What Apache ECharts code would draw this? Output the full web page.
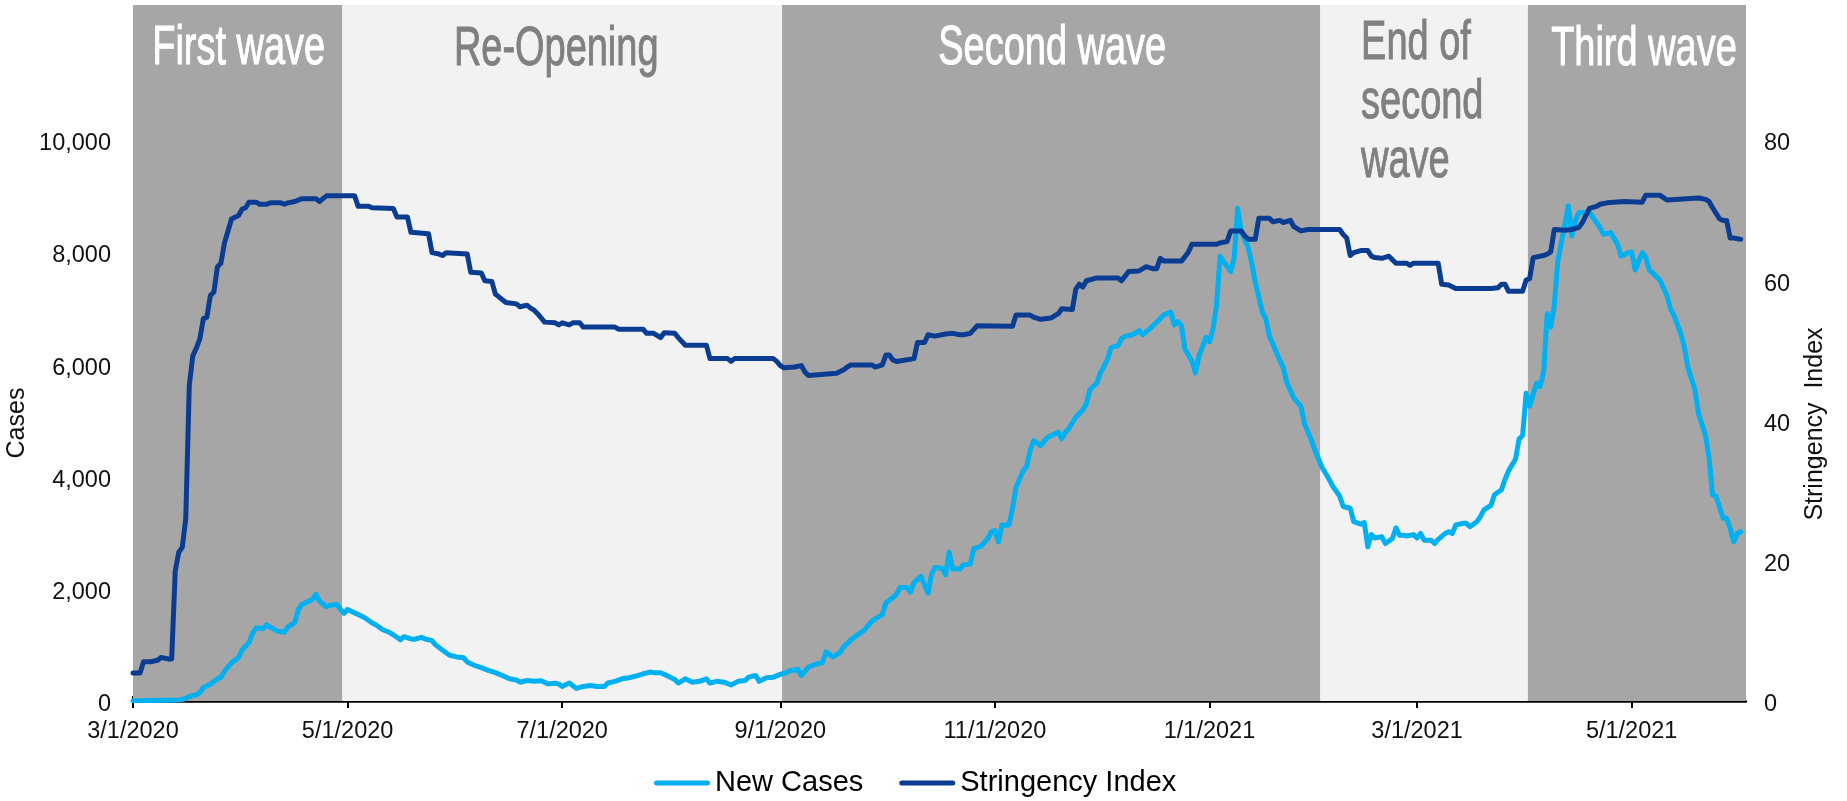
<!DOCTYPE html>
<html>
<head>
<meta charset="utf-8">
<title>New Cases and Stringency Index</title>
<script src="https://cdn.jsdelivr.net/npm/echarts@6/dist/echarts.min.js"></script>
<style>
  html, body { margin: 0; padding: 0; background: #ffffff; }
  #chart { width: 1847px; height: 801px; }
</style>
</head>
<body>
<div id="chart"></div>
<script>
// ---- Data -------------------------------------------------------------
// Day offsets are counted from 1 March 2020 (day 0).
const SERIES_START = [2020, 2, 1];

// Pandemic phases: first and last day of each shaded period.
const phaseNames    = ['First wave', 'Re-Opening', 'Second wave', 'End of\nsecond\nwave', 'Third wave'];
const phaseFirstDay = [0, 60, 185, 338, 397];
const phaseLastDay  = [59, 184, 337, 396, 458];
const phaseIsWave   = [true, false, true, false, true];

// New Cases (7-day average), left axis.
const caseDays = [
  0, 5, 10, 13, 14, 15, 16, 18, 19, 20, 22, 24, 25, 26, 27, 28, 30, 31, 33, 34,
  35, 37, 38, 39, 41, 43, 44, 46, 47, 48, 50, 51, 52, 53, 55, 56, 58, 59, 60, 61,
  63, 64, 66, 68, 69, 71, 73, 74, 76, 77, 79, 80, 82, 83, 85, 86, 88, 90, 92, 94,
  95, 97, 99, 101, 103, 105, 107, 109, 110, 112, 114, 116, 118, 120, 121, 122, 124, 126, 128, 130,
  132, 134, 135, 137, 139, 141, 143, 145, 147, 148, 150, 152, 154, 155, 157, 159, 161, 163, 164, 166,
  168, 170, 172, 174, 175, 177, 178, 180, 182, 184, 186, 187, 189, 190, 192, 194, 196, 197, 199, 201,
  202, 204, 206, 208, 210, 211, 213, 214, 216, 217, 218, 220, 221, 222, 224, 226, 227, 228, 230, 231,
  232, 233, 235, 236, 238, 239, 241, 243, 244, 245, 246, 247, 249, 250, 251, 253, 254, 255, 256, 258,
  260, 261, 263, 264, 265, 266, 268, 270, 271, 272, 274, 275, 277, 278, 280, 281, 282, 284, 285, 286,
  287, 289, 290, 292, 293, 295, 296, 297, 298, 299, 301, 302, 303, 305, 306, 307, 308, 309, 311, 312,
  313, 314, 315, 317, 318, 319, 321, 322, 323, 325, 327, 328, 330, 332, 333, 335, 336, 338, 340, 341,
  343, 344, 346, 347, 349, 350, 351, 352, 353, 355, 356, 358, 359, 360, 361, 362, 364, 365, 366, 367,
  369, 370, 371, 373, 374, 375, 376, 378, 379, 380, 382, 383, 384, 386, 387, 389, 390, 391, 393, 394,
  395, 396, 397, 399, 400, 401, 402, 403, 404, 405, 407, 408, 409, 410, 411, 414, 415, 417, 418, 420,
  422, 423, 425, 426, 427, 429, 430, 431, 433, 434, 436, 437, 438, 440, 441, 442, 444, 445, 447, 448,
  449, 450, 452, 453, 454, 455, 456, 457
];
const caseCounts = [
  5, 10, 15, 20, 25, 50, 80, 110, 150, 240, 300, 395, 425, 530, 605, 680, 775, 905, 1045, 1210,
  1300, 1290, 1360, 1315, 1245, 1225, 1315, 1400, 1630, 1720, 1780, 1810, 1900, 1780, 1680, 1705, 1720, 1630, 1560, 1630,
  1570, 1540, 1480, 1390, 1360, 1270, 1220, 1180, 1090, 1145, 1105, 1100, 1135, 1105, 1075, 1000, 905, 815, 785, 770,
  695, 635, 595, 545, 505, 455, 395, 375, 335, 365, 350, 360, 305, 315, 305, 260, 320, 225, 260, 275,
  260, 260, 320, 350, 395, 415, 445, 485, 515, 505, 505, 445, 385, 320, 395, 335, 350, 395, 320, 350,
  335, 285, 350, 365, 425, 455, 350, 415, 425, 475, 515, 545, 565, 455, 605, 655, 685, 875, 785, 865,
  965, 1085, 1180, 1270, 1420, 1465, 1540, 1750, 1840, 1900, 2020, 2020, 1940, 2110, 2220, 1920, 2260, 2380, 2365, 2250,
  2650, 2350, 2350, 2425, 2440, 2715, 2755, 2895, 3015, 3035, 2835, 3135, 3135, 3435, 3800, 4100, 4170, 4460, 4640, 4550,
  4700, 4730, 4790, 4670, 4790, 4850, 5060, 5185, 5300, 5545, 5665, 5845, 6085, 6295, 6330, 6460, 6495, 6525, 6555, 6600,
  6525, 6630, 6690, 6810, 6880, 6930, 6700, 6760, 6690, 6270, 6055, 5845, 6145, 6480, 6400, 6630, 7050, 7920, 7740, 7650,
  7890, 8780, 8375, 8075, 7800, 7470, 6930, 6810, 6510, 6210, 5935, 5665, 5395, 5245, 4940, 4640, 4460, 4160, 3950, 3830,
  3650, 3465, 3435, 3195, 3150, 3180, 2745, 2965, 2905, 2925, 2805, 2895, 3085, 2955, 2955, 2940, 2965, 2905, 2985, 2865,
  2865, 2805, 2880, 2985, 3015, 2985, 3135, 3165, 3165, 3105, 3195, 3285, 3405, 3485, 3675, 3765, 3950, 4100, 4310, 4670,
  4730, 5485, 5255, 5665, 5605, 5875, 6900, 6660, 7050, 7835, 8495, 8825, 8285, 8555, 8705, 8705, 8615, 8435, 8315, 8345,
  8135, 7925, 7985, 8000, 7680, 7985, 7905, 7680, 7560, 7500, 7230, 6990, 6870, 6540, 6295, 5935, 5545, 5120, 4730, 4340,
  3675, 3645, 3255, 3255, 3075, 2835, 2985, 3015
];

// Stringency Index, right axis.
const stringencyDays = [
  0, 2, 3, 5, 7, 8, 10, 11, 12, 13, 14, 15, 16, 17, 18, 19, 20, 21, 22, 23,
  24, 25, 26, 27, 28, 30, 31, 32, 33, 35, 36, 38, 39, 42, 43, 44, 46, 48, 52, 53,
  54, 55, 63, 64, 67, 68, 74, 75, 78, 79, 84, 85, 87, 88, 89, 95, 96, 99, 100, 102,
  103, 104, 105, 106, 109, 110, 112, 113, 114, 115, 116, 117, 120, 121, 122, 124, 125, 127, 128, 137,
  138, 145, 146, 148, 150, 151, 154, 155, 157, 163, 164, 169, 170, 171, 182, 183, 184, 185, 188, 190,
  191, 192, 200, 202, 203, 204, 210, 211, 213, 214, 215, 216, 217, 222, 223, 225, 226, 228, 231, 233,
  235, 236, 238, 240, 250, 251, 255, 256, 258, 261, 263, 264, 267, 268, 269, 270, 271, 274, 280, 281,
  283, 286, 288, 290, 291, 292, 293, 298, 299, 300, 301, 308, 309, 311, 312, 315, 316, 317, 319, 320,
  323, 324, 326, 327, 329, 330, 332, 334, 343, 344, 345, 346, 347, 349, 351, 352, 353, 355, 357, 359,
  362, 363, 364, 371, 372, 374, 376, 386, 388, 389, 390, 391, 395, 396, 397, 398, 401, 402, 403, 404,
  407, 409, 411, 412, 413, 414, 416, 417, 419, 424, 429, 430, 434, 436, 445, 447, 448, 449, 450, 451,
  452, 453, 454, 455, 457
];
const stringencyScores = [
  4.0, 4.0, 5.6, 5.6, 5.8, 6.2, 6.0, 6.0, 18.5, 21.2, 21.9, 26.0, 45.0, 49.2, 50.3, 51.6, 54.5, 54.7, 57.8, 58.3,
  61.9, 62.4, 65.3, 67.0, 68.7, 69.2, 70.1, 70.3, 71.1, 71.1, 70.8, 70.8, 71.0, 71.0, 70.8, 71.0, 71.2, 71.6, 71.6, 71.2,
  71.6, 72.0, 72.0, 70.5, 70.5, 70.3, 70.2, 69.0, 69.0, 66.8, 66.6, 63.9, 63.7, 63.5, 63.9, 63.7, 61.1, 61.0, 59.9, 59.8,
  58.0, 57.6, 57.2, 56.8, 56.6, 56.2, 56.4, 56.0, 55.7, 55.2, 54.6, 54.0, 53.9, 53.6, 53.9, 53.6, 53.9, 53.9, 53.3, 53.3,
  53.0, 53.0, 52.4, 52.4, 51.8, 52.5, 52.4, 51.8, 50.7, 50.7, 48.8, 48.8, 48.4, 48.8, 48.8, 48.4, 47.8, 47.5, 47.6, 47.8,
  46.9, 46.4, 46.7, 47.2, 47.6, 47.9, 47.9, 47.6, 47.9, 49.3, 49.3, 48.6, 48.4, 48.8, 51.1, 51.1, 52.2, 52.0, 52.3, 52.4,
  52.2, 52.2, 52.4, 53.5, 53.4, 55.0, 55.0, 54.7, 54.4, 54.6, 55.2, 55.9, 55.8, 58.7, 59.4, 59.0, 59.9, 60.3, 60.3, 59.9,
  61.2, 61.3, 61.9, 61.6, 61.6, 63.1, 62.7, 62.7, 63.3, 64.0, 65.1, 65.1, 65.3, 65.5, 67.0, 67.0, 66.3, 65.8, 65.8, 68.8,
  68.8, 68.3, 68.5, 68.2, 68.5, 67.6, 67.0, 67.2, 67.2, 66.5, 66.0, 63.5, 63.9, 64.2, 64.2, 63.4, 63.2, 63.1, 63.4, 62.4,
  62.4, 62.1, 62.4, 62.4, 59.4, 59.3, 58.8, 58.8, 58.9, 59.4, 59.4, 58.4, 58.4, 60.0, 60.2, 63.2, 63.5, 63.7, 64.0, 67.2,
  67.1, 67.2, 67.5, 68.2, 69.2, 70.2, 70.5, 70.8, 71.0, 71.2, 71.1, 72.1, 72.1, 71.4, 71.7, 71.5, 71.2, 70.3, 69.5, 68.7,
  68.5, 68.5, 66.0, 66.0, 65.8
];

// Axis ticks and labels.
const xTickLabels = ['3/1/2020', '5/1/2020', '7/1/2020', '9/1/2020', '11/1/2020', '1/1/2021', '3/1/2021', '5/1/2021'];
const casesTickLabels = [0, 2000, 4000, 6000, 8000, 10000];
const stringencyTickLabels = [0, 20, 40, 60, 80];

// ---- Helpers ----------------------------------------------------------
const DAY_MS = 86400000;
const dayToTime = d => new Date(SERIES_START[0], SERIES_START[1], SERIES_START[2] + d).getTime();
const parseMDY = s => { const [m, d, y] = s.split('/').map(Number); return new Date(y, m - 1, d).getTime(); };
const formatMDY = t => { const d = new Date(t); return (d.getMonth() + 1) + '/' + d.getDate() + '/' + d.getFullYear(); };

const axisMin = dayToTime(0);
const axisMax = dayToTime(phaseLastDay[phaseLastDay.length - 1]) + DAY_MS / 2;

// Monthly minor ticks across the axis range.
const monthTicks = [];
for (let y = SERIES_START[0], m = SERIES_START[1]; ; m++) {
  if (m > 11) { m = 0; y++; }
  const t = new Date(y, m, 1).getTime();
  if (t > axisMax) break;
  monthTicks.push(t);
}
const labelTicks = xTickLabels.map(parseMDY);

const caseData = caseDays.map((d, i) => [dayToTime(d), caseCounts[i]]);
const stringencyData = stringencyDays.map((d, i) => [dayToTime(d), stringencyScores[i]]);

const phaseStart = i => Math.max(axisMin, dayToTime(phaseFirstDay[i]) - DAY_MS / 2);
const phaseEnd = i => Math.min(axisMax, dayToTime(phaseLastDay[i]) + DAY_MS / 2);

const WAVE_FILL = '#A6A6A6';
const CALM_FILL = '#F2F2F2';
const FONT = '"Liberation Sans", Arial, Helvetica, sans-serif';

const bands = phaseNames.map((name, i) => [
  { xAxis: phaseStart(i), itemStyle: { color: phaseIsWave[i] ? WAVE_FILL : CALM_FILL } },
  { xAxis: phaseEnd(i) }
]);

// Value-axis labels sit a few pixels below their gridline value.
const valueLabelStyle = {
  fontFamily: FONT, fontSize: 23.5, color: '#111111',
  verticalAlign: 'top', lineHeight: 8
};

// ---- Chart ------------------------------------------------------------
const chart = echarts.init(document.getElementById('chart'), null, { renderer: 'canvas' });

// Dates are plotted as millisecond timestamps on linear axes so that ticks can
// be placed exactly on month starts.
const option = {
  animation: false,
  backgroundColor: '#ffffff',
  grid: { left: 133, right: 101, top: 5, bottom: 100, containLabel: false },
  legend: {
    left: 654, top: 767, padding: 0,
    itemWidth: 56, itemHeight: 5, itemGap: 36,
    icon: 'path://M2.5,0 H53.5 A2.5,2.5 0 0 1 53.5,5 H2.5 A2.5,2.5 0 0 1 2.5,0 Z',
    textStyle: { fontFamily: FONT, fontSize: 29, color: '#000000', lineHeight: 32 },
    data: ['New Cases', 'Stringency Index']
  },
  xAxis: [
    {
      type: 'value', min: axisMin, max: axisMax, position: 'bottom', scale: true,
      splitLine: { show: false },
      axisLine: { show: true, lineStyle: { color: '#000000', width: 2.5 } },
      axisTick: { show: true, customValues: labelTicks, length: 7, inside: false, lineStyle: { color: '#000000', width: 2 } },
      axisLabel: {
        show: true, customValues: labelTicks, margin: 19,
        fontFamily: FONT, fontSize: 23.5, color: '#111111',
        formatter: v => formatMDY(v)
      }
    },
    {
      type: 'value', min: axisMin, max: axisMax, position: 'bottom', offset: 0, scale: true,
      splitLine: { show: false },
      axisLine: { show: false },
      axisTick: { show: true, customValues: monthTicks, length: 5, inside: true, lineStyle: { color: '#000000', width: 2 } },
      axisLabel: { show: false }
    }
  ],
  yAxis: [
    {
      type: 'value', position: 'left', min: 0, max: 12400, interval: 2000,
      splitLine: { show: false }, axisLine: { show: false }, axisTick: { show: false },
      axisLabel: Object.assign({
        customValues: casesTickLabels, margin: 22,
        formatter: v => (v <= 10000 ? v.toLocaleString('en-US') : '')
      }, valueLabelStyle)
    },
    {
      type: 'value', position: 'right', min: 0, max: 99.2, interval: 20,
      splitLine: { show: false }, axisLine: { show: false }, axisTick: { show: false },
      axisLabel: Object.assign({
        customValues: stringencyTickLabels, margin: 18,
        formatter: v => (v <= 80 ? String(v) : '')
      }, valueLabelStyle)
    }
  ],
  series: [
    {
      name: 'Phases', type: 'line', xAxisIndex: 0, yAxisIndex: 0, data: [],
      silent: true, z: 1,
      markArea: { silent: true, z: 1, label: { show: false }, data: bands }
    },
    {
      name: 'New Cases', type: 'line', xAxisIndex: 0, yAxisIndex: 0,
      data: caseData, color: '#00B0F0', showSymbol: false, symbol: 'none',
      lineStyle: { color: '#00B0F0', width: 5, join: 'round', cap: 'round' },
      z: 3
    },
    {
      name: 'Stringency Index', type: 'line', xAxisIndex: 0, yAxisIndex: 1,
      data: stringencyData, color: '#0A3D91', showSymbol: false, symbol: 'none',
      lineStyle: { color: '#0A3D91', width: 5, join: 'round', cap: 'round' },
      z: 4
    }
  ]
};

chart.setOption(option);

// ---- Phase captions and axis titles -------------------------------------
// Captions use a horizontally compressed sans, lightly outlined in their own
// colour, for a condensed headline look.
const CAPTION_SIZE = 55;
const CAPTION_SQUEEZE = 0.69;
const captionNudge = [1, -6, 1, 0, 7];
const captionY = [48.5, 50, 48.5, 102.5, 50];

const graphics = phaseNames.map((name, i) => {
  const x0 = chart.convertToPixel({ xAxisIndex: 0 }, phaseStart(i));
  const x1 = chart.convertToPixel({ xAxisIndex: 0 }, phaseEnd(i));
  const multiLine = name.indexOf('\n') >= 0;
  const cx = (x0 + x1) / 2 + captionNudge[i];
  const colour = phaseIsWave[i] ? '#FFFFFF' : '#808080';
  return {
    type: 'text',
    x: multiLine ? cx - 63 : cx,
    y: captionY[i],
    scaleX: CAPTION_SQUEEZE, scaleY: 1,
    z: 50, silent: true,
    style: {
      text: name,
      fill: colour, stroke: colour, lineWidth: 1.0,
      fontFamily: FONT, fontSize: CAPTION_SIZE, lineHeight: 59,
      textAlign: multiLine ? 'left' : 'center', align: multiLine ? 'left' : 'center',
      textVerticalAlign: 'middle', verticalAlign: 'middle'
    }
  };
});

graphics.push({
  type: 'text', x: 16.7, y: 423, rotation: Math.PI / 2, z: 50, silent: true,
  style: {
    text: 'Cases', fill: '#111111', fontFamily: FONT, fontSize: 25,
    textAlign: 'center', align: 'center', textVerticalAlign: 'middle', verticalAlign: 'middle'
  }
});
graphics.push({
  type: 'text', x: 1815, y: 424, rotation: Math.PI / 2, z: 50, silent: true,
  style: {
    text: 'Stringency  Index', fill: '#111111', fontFamily: FONT, fontSize: 25,
    textAlign: 'center', align: 'center', textVerticalAlign: 'middle', verticalAlign: 'middle'
  }
});

chart.setOption({ graphic: graphics });
</script>
</body>
</html>
